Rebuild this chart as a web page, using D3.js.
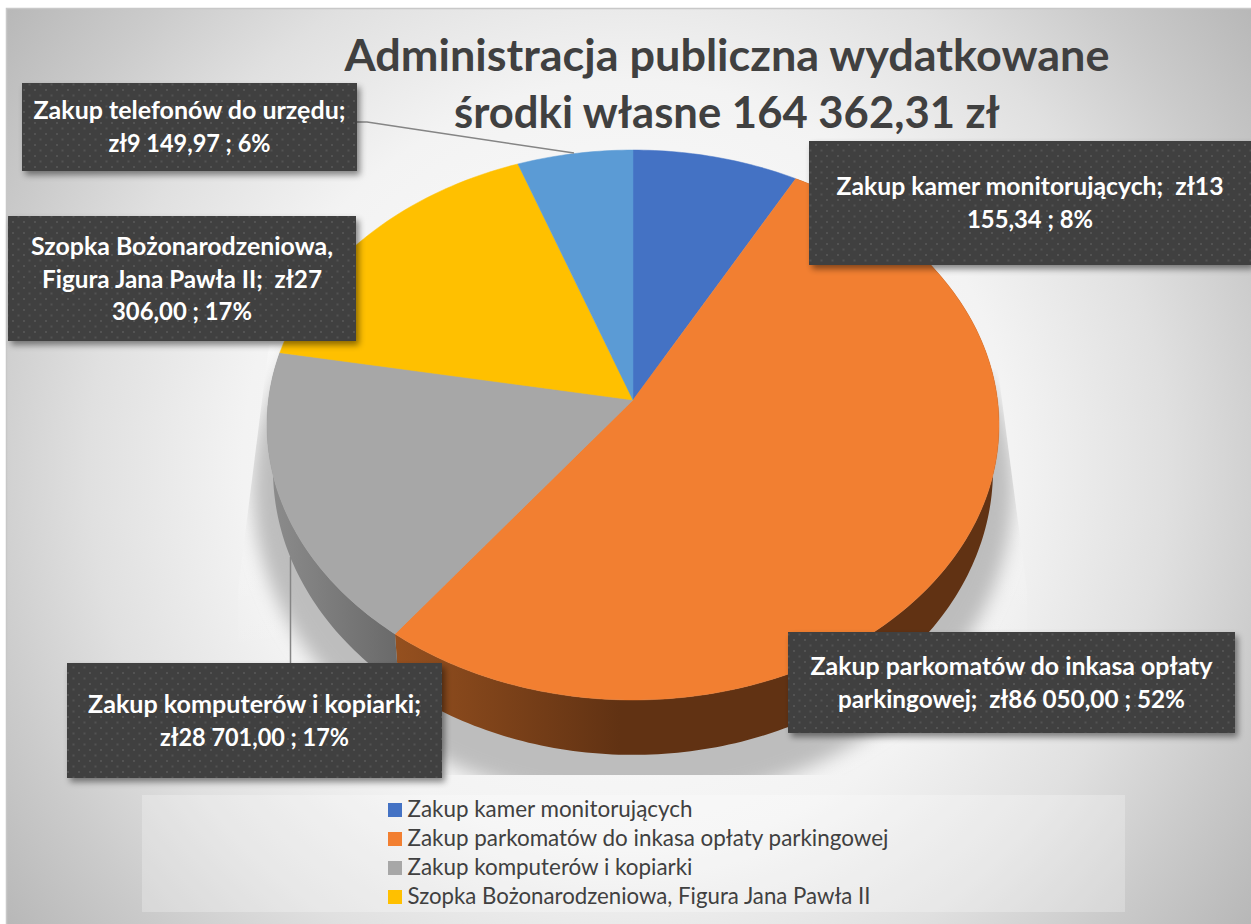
<!DOCTYPE html>
<html lang="pl">
<head>
<meta charset="utf-8">
<title>Administracja publiczna</title>
<script src="https://cdn.jsdelivr.net/npm/d3@7"></script>
<style>
  html, body { margin: 0; padding: 0; background: #fff; }
  svg { display: block; }
  text { font-family: Lato, "Open Sans", sans-serif; }
</style>
</head>
<body>
<div id="chart"></div>
<script>
// data
var categories = [
    "Zakup kamer monitorujących",
    "Zakup parkomatów do inkasa opłaty parkingowej",
    "Zakup komputerów i kopiarki",
    "Szopka Bożonarodzeniowa, Figura Jana Pawła II",
    "Zakup telefonów do urzędu"
];
var values = [13155.34, 86050.00, 28701.00, 27306.00, 9149.97];
var colors = ["#4472c4", "#f27f31", "#a7a7a7", "#ffc000", "#5b9bd5"];
var titleLines = ["Administracja publiczna wydatkowane", "środki własne 164 362,31 zł"];
var labelLines = [
    ["Zakup kamer monitorujących;  zł13", "155,34 ; 8%"],
    ["Zakup parkomatów do inkasa opłaty", "parkingowej;  zł86 050,00 ; 52%"],
    ["Zakup komputerów i kopiarki;", "zł28 701,00 ; 17%"],
    ["Szopka Bożonarodzeniowa,", "Figura Jana Pawła II;  zł27", "306,00 ; 17%"],
    ["Zakup telefonów do urzędu;", "zł9 149,97 ; 6%"]
];

// label box layout: x0, y0, x1, y1, baseline of first line
var labelBoxes = [
    [809, 141, 1251, 265, 195],
    [788, 632, 1235, 733, 675],
    [67, 663, 442, 778, 713],
    [8, 216, 356, 341, 255],
    [22, 83, 357, 171, 119]
];
// the font differs a little, so line widths are pinned to the reference
var titleWidths = [765, 546];
var labelWidths = [[387, 126], [402, 347], [333, 189], [302, 280, 140], [312, 162]];
var legendWidths = [285, 481, 285, 463];

var width = 1251;
var height = 924;

var svg = d3.select("#chart")
    .append("svg")
    .attr("width", width)
    .attr("height", height);

var defs = svg.append("defs");

// background
var bgGrad = defs.append("radialGradient")
    .attr("id", "bg")
    .attr("gradientUnits", "userSpaceOnUse")
    .attr("cx", 628).attr("cy", 466).attr("r", 770);
[[0, "#ffffff"], [0.5, "#f3f3f3"], [0.7, "#e0e0e0"], [0.85, "#cbcbcb"], [1, "#b8b8b8"]].forEach(function (s) {
    bgGrad.append("stop").attr("offset", s[0]).attr("stop-color", s[1]);
});

function wallGradient(id, x0, x1, c0, c1) {
    var g = defs.append("linearGradient")
        .attr("id", id)
        .attr("gradientUnits", "userSpaceOnUse")
        .attr("x1", x0).attr("x2", x1).attr("y1", 0).attr("y2", 0);
    g.append("stop").attr("offset", 0).attr("stop-color", c0);
    g.append("stop").attr("offset", 1).attr("stop-color", c1);
}
wallGradient("wall1", 395, 620, "#95501f", "#613213");
wallGradient("wall2", 270, 400, "#8c8c8c", "#696969");

// pale patch behind the shadow fades out towards the bottom
var patchGrad = defs.append("linearGradient")
    .attr("id", "patch")
    .attr("gradientUnits", "userSpaceOnUse")
    .attr("x1", 0).attr("x2", 0).attr("y1", 480).attr("y2", 660);
patchGrad.append("stop").attr("offset", 0).attr("stop-color", "#fff").attr("stop-opacity", 0.3);
patchGrad.append("stop").attr("offset", 1).attr("stop-color", "#fff").attr("stop-opacity", 0);

defs.append("filter").attr("id", "blur")
    .attr("x", "-10%").attr("y", "-10%").attr("width", "120%").attr("height", "120%")
    .append("feGaussianBlur").attr("stdDeviation", 9);

var dropShadow = defs.append("filter").attr("id", "boxShadow")
    .attr("x", "-5%").attr("y", "-10%").attr("width", "110%").attr("height", "125%");
dropShadow.append("feDropShadow")
    .attr("dx", 3).attr("dy", 4).attr("stdDeviation", 3)
    .attr("flood-color", "#000").attr("flood-opacity", 0.45);

var dots = defs.append("pattern")
    .attr("id", "dots")
    .attr("patternUnits", "userSpaceOnUse")
    .attr("width", 11).attr("height", 11);
dots.append("rect").attr("width", 11).attr("height", 11).attr("fill", "#3f3f3f");
dots.append("rect").attr("x", 1).attr("y", 1).attr("width", 2).attr("height", 2).attr("fill", "#525252");
dots.append("rect").attr("x", 6.5).attr("y", 6.5).attr("width", 2).attr("height", 2).attr("fill", "#525252");

var shadowOutline = [[269, 345], [238, 590], [238, 775], [1027, 775], [1027, 590], [998, 370]];
defs.append("clipPath").attr("id", "shadowClip")
    .append("path")
    .attr("d", d3.line()(shadowOutline) + "Z");

// panel
svg.append("rect")
    .attr("x", 6.5).attr("y", 8.5)
    .attr("width", width).attr("height", height)
    .attr("fill", "url(#bg)")
    .attr("stroke", "#c8c8c8")
    .attr("stroke-width", 1.5);

svg.append("path")
    .attr("d", d3.line()(shadowOutline) + "Z")
    .attr("fill", "url(#patch)");

// cast shadow under the pie
svg.append("g").attr("clip-path", "url(#shadowClip)")
    .append("ellipse")
    .attr("cx", 633).attr("cy", 490)
    .attr("rx", 380).attr("ry", 312)
    .attr("fill", "#bdbdbd")
    .attr("filter", "url(#blur)");

// perspective disc: top face and lower rim of the pie
var k = 0.0909;
function rim(cx, cy, a, b) {
    return function (t) {
        var w = 1 + k * Math.cos(t);
        return [cx + b * Math.sin(t) / w, cy - a * Math.cos(t) / w];
    };
}
var topRim = rim(633, 400, 272.7, 364.5);
var lowRim = rim(633, 444, 282.6, 358.5);

var pie = d3.pie().sort(null).value(function (d) { return d; });
var arcs = pie(values);
var color = d3.scaleOrdinal().domain(categories).range(colors);
var path = d3.line();

function sweep(a) {
    var n = Math.max(4, Math.ceil((a.endAngle - a.startAngle) * 60));
    return d3.range(n + 1).map(function (i) {
        return a.startAngle + (a.endAngle - a.startAngle) * i / n;
    });
}

// walls, only the two front slices show
var wallFill = [null, "url(#wall1)", "url(#wall2)", null, null];
svg.append("g").selectAll("path")
    .data(arcs.filter(function (a) { return wallFill[a.index]; }))
    .join("path")
    .attr("d", function (a) {
        var ts = sweep(a);
        return path(ts.map(topRim).concat(ts.slice().reverse().map(lowRim))) + "Z";
    })
    .attr("fill", function (a) { return wallFill[a.index]; });

// top slices
svg.append("g").selectAll("path")
    .data(arcs)
    .join("path")
    .attr("d", function (a) {
        return path([[633, 400]].concat(sweep(a).map(topRim))) + "Z";
    })
    .attr("fill", function (a) { return color(categories[a.index]); })
    .attr("stroke", function (a) { return color(categories[a.index]); })
    .attr("stroke-width", 0.5);

// leader lines
var leaders = [
    [[357, 122], [367, 122], [420, 130], [574, 153]],
    [[290.5, 557], [290.5, 663]]
];
svg.append("g").selectAll("path")
    .data(leaders)
    .join("path")
    .attr("d", path)
    .attr("fill", "none")
    .attr("stroke", "#858585")
    .attr("stroke-width", 1.5);

// data labels
var labels = svg.append("g").selectAll("g")
    .data(labelBoxes)
    .join("g");
labels.append("rect")
    .attr("x", function (d) { return d[0]; })
    .attr("y", function (d) { return d[1]; })
    .attr("width", function (d) { return d[2] - d[0]; })
    .attr("height", function (d) { return d[3] - d[1]; })
    .attr("fill", "url(#dots)")
    .attr("filter", "url(#boxShadow)");
labels.each(function (d, i) {
    d3.select(this).selectAll("text")
        .data(labelLines[i])
        .join("text")
        .attr("x", (d[0] + d[2]) / 2)
        .attr("y", function (t, j) { return d[4] + j * 32.7; })
        .attr("text-anchor", "middle")
        .attr("xml:space", "preserve")
        .style("white-space", "pre")
        .attr("font-size", 24.8)
        .attr("font-weight", 700)
        .attr("fill", "#ffffff")
        .attr("textLength", function (t, j) { return labelWidths[i][j]; })
        .attr("lengthAdjust", "spacingAndGlyphs")
        .text(function (t) { return t; });
});

// title
svg.append("g").selectAll("text")
    .data(titleLines)
    .join("text")
    .attr("x", 727)
    .attr("y", function (t, i) { return 71 + i * 57; })
    .attr("text-anchor", "middle")
    .attr("font-size", 44.6)
    .attr("font-weight", 700)
    .attr("fill", "#404040")
    .attr("textLength", function (t, i) { return titleWidths[i]; })
    .attr("lengthAdjust", "spacingAndGlyphs")
    .text(function (t) { return t; });

// legend, the reference only shows the first four entries
svg.append("rect")
    .attr("x", 142).attr("y", 795)
    .attr("width", 983).attr("height", 117)
    .attr("fill", "#ffffff")
    .attr("fill-opacity", 0.25);

var legend = svg.append("g").selectAll("g")
    .data(categories.slice(0, 4))
    .join("g")
    .attr("transform", function (d, i) { return "translate(388," + (803 + i * 29) + ")"; });
legend.append("rect")
    .attr("width", 14).attr("height", 14)
    .attr("fill", function (d) { return color(d); });
legend.append("text")
    .attr("x", 19.5).attr("y", 14)
    .attr("font-size", 22.5)
    .attr("fill", "#404040")
    .attr("textLength", function (d, i) { return legendWidths[i]; })
    .attr("lengthAdjust", "spacingAndGlyphs")
    .text(function (d) { return d; });
</script>
</body>
</html>
